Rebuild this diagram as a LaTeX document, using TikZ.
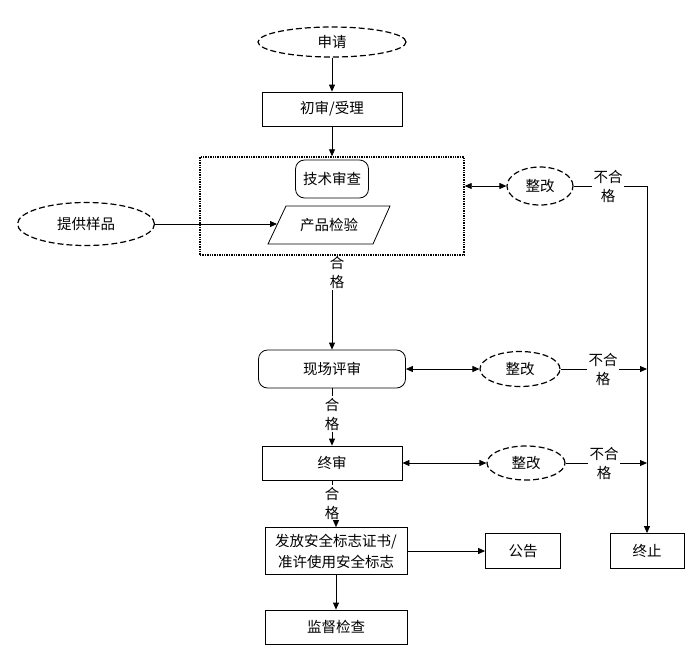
\documentclass[tikz,border=0pt]{standalone}
\usepackage{fontspec}
\setmainfont{Noto Sans CJK SC}
\usetikzlibrary{shapes.geometric,arrows.meta,calc}
\begin{document}
\begin{tikzpicture}[x=1pt,y=-1pt,
  font=\fontsize{14.5}{19}\selectfont,
  line width=0.8pt,
  arr/.style={-{Triangle[length=7pt,width=6pt]}},
  darr/.style={{Triangle[length=7pt,width=6pt]}-{Triangle[length=7pt,width=6pt]}},
  box/.style={draw, rectangle, inner sep=0pt, align=center},
  rbox/.style={box, rounded corners=9pt},
  dell/.style={draw, ellipse, inner sep=0pt, dash pattern=on 6pt off 3pt, line width=1.2pt},
  lbl/.style={inner sep=1pt, align=center}]
\useasboundingbox (0,0) rectangle (700,667);

% main column
\node[dell, minimum width=148pt, minimum height=30pt] (sq) at (332,42) {申请};
\node[box, minimum width=140pt, minimum height=34pt] (cs) at (332,109) {初审/受理};
\node[draw, densely dotted, line width=1.4pt, minimum width=264pt, minimum height=98pt, inner sep=0pt] (frame) at (332,206) {};
\node[rbox, minimum width=73pt, minimum height=38pt] (js) at (332,179) {技术审查};
\node[inner sep=0pt] (cp) at (329,225) {产品检验};
\draw (286,206) -- (390,206) -- (373,244) -- (268,244) -- cycle;
\coordinate (cpL) at (277,224);
\node[dell, minimum width=137pt, minimum height=43pt] (tg) at (86,224) {提供样品};

\node[lbl] (hg1) at (337,272) {合\\格};
\node[rbox, minimum width=147pt, minimum height=38pt] (xc) at (332,369) {现场评审};
\node[lbl] (hg2) at (332,414) {合\\格};
\node[box, minimum width=140pt, minimum height=34pt] (zs) at (332,463) {终审};
\node[lbl] (hg3) at (332,503) {合\\格};
\node[box, minimum width=142pt, minimum height=47pt, font=\fontsize{14.5}{21}\selectfont] (ff) at (336,551) {发放安全标志证书/\\准许使用安全标志};
\node[box, minimum width=142pt, minimum height=34pt] (jd) at (336,627) {监督检查};
\node[box, minimum width=75pt, minimum height=35pt] (gg) at (523,551) {公告};
\node[box, minimum width=74pt, minimum height=35pt] (zz) at (647,551) {终止};

% rectification branches
\node[dell, minimum width=66pt, minimum height=38pt] (zg1) at (540,186) {整改};
\node[lbl] (bh1) at (608,186) {不合\\格};
\node[dell, minimum width=80pt, minimum height=35pt] (zg2) at (520,369) {整改};
\node[lbl] (bh2) at (603,369) {不合\\格};
\node[dell, minimum width=78pt, minimum height=34pt] (zg3) at (526,463) {整改};
\node[lbl] (bh3) at (604,463) {不合\\格};

% connectors
\draw[arr] (sq) -- (cs);
\draw[arr] (cs) -- (frame.north -| cs);
\draw[arr] (tg.east) -- (tg.east -| cpL);
\draw (frame.south -| xc) -- (hg1.north -| xc);
\draw[arr] (hg1.south -| xc.north) -- (xc.north);
\draw (xc.south) -- (hg2.north);
\draw[arr] (hg2.south) -- (zs.north);
\draw (zs.south) -- (hg3.north);
\draw[arr] (hg3.south -| ff.north) -- (ff.north);
\draw[arr] (ff) -- (jd);
\draw[arr] (ff) -- (gg);

\draw[darr] (zg1.west -| frame.east) -- (zg1.west);
\draw[darr] (xc.east) -- (zg2.west);
\draw[darr] (zs.east) -- (zg3.west);

\coordinate (vtop) at (zz.north |- bh1.east);
\draw (zg1.east) -- (bh1.west);
\draw[arr] (bh1.east) -- (vtop) -- (zz.north);
\draw (zg2.east) -- (bh2.west);
\draw[arr] (bh2.east) -- (bh2.east -| zz.north);
\draw (zg3.east) -- (bh3.west);
\draw[arr] (bh3.east) -- (bh3.east -| zz.north);
\end{tikzpicture}
\end{document}
